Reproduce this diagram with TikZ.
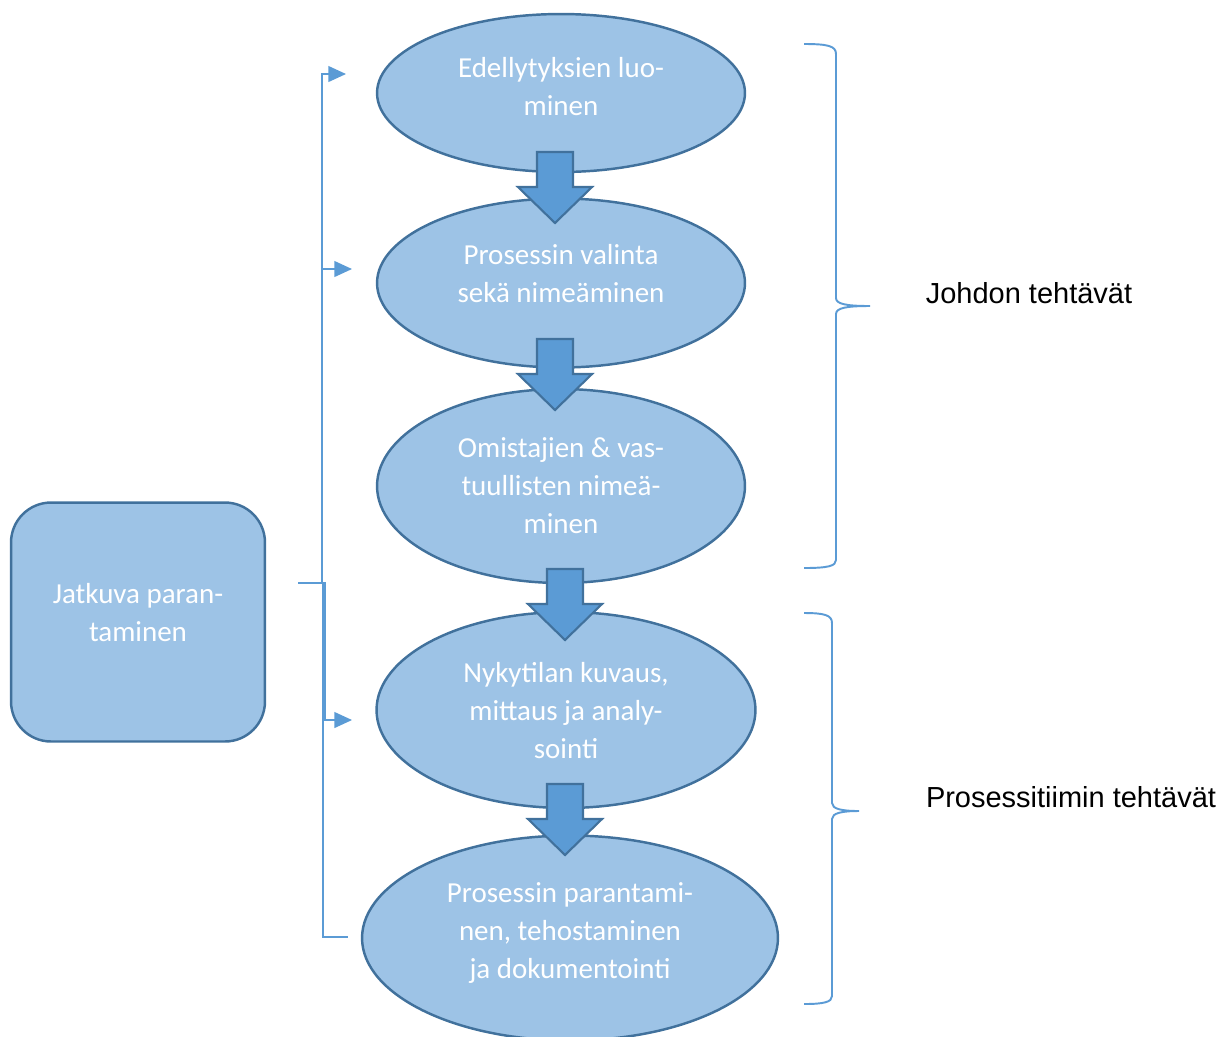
\documentclass[tikz,border=0pt]{standalone}
\usepackage{fontspec}
\setmainfont{Carlito}
\newfontfamily\labelfont{Liberation Sans}
\usepackage{xcolor}
\usetikzlibrary{arrows.meta}
\usetikzlibrary{shapes.geometric,positioning}
\definecolor{stagefill}{HTML}{9DC3E6}
\definecolor{stageline}{HTML}{41719C}
\definecolor{flowblue}{HTML}{5B9BD5}

\begin{document}
\begin{tikzpicture}[x=0.02cm,y=-0.02cm]
  \tikzset{stage/.style = {shape=ellipse,draw=stageline,fill=stagefill,line width=1.4pt,inner sep=0pt}}
  \tikzset{stagetext/.style = {text=white,align=center,inner sep=0pt,font=\fontsize{16.5}{21.8}\selectfont}}
  \tikzset{loopbox/.style = {shape=rectangle,rounded corners=0.8cm,draw=stageline,fill=stagefill,line width=1.4pt}}
  \tikzset{sidelabel/.style = {font=\labelfont\fontsize{16.5}{20}\selectfont}}
  \tikzset{link/.style = {draw=flowblue,line width=0.8pt}}
  \tikzset{bracket/.style = {draw=flowblue,line width=1.1pt}}
  \tikzset{%
  tipA/.tip={Triangle[length=10pt,width=9pt]},
  flowarrow/.pic={\draw[fill=flowblue,draw=stageline,line width=1.2pt] (-18,0) -- (18,0) -- (18,35) -- (37,35) -- (0,71) -- (-37,35) -- (-18,35) -- cycle;},
}

	\useasboundingbox (0,0) rectangle (1230,1036);

	\node[stage, minimum width=7.36cm, minimum height=3.16cm] (E1) at (561,93) {};
	\node[stage, minimum width=7.36cm, minimum height=3.38cm] (E2) at (561,283) {};
	\node[stage, minimum width=7.36cm, minimum height=3.88cm] (E3) at (561,486) {};
	\node[stage, minimum width=7.58cm, minimum height=3.92cm] (E4) at (566,710) {};
	\node[stage, minimum width=8.32cm, minimum height=4.1cm] (E5) at (570,938) {};
	\node[loopbox, minimum width=5.08cm, minimum height=4.78cm] (L) at (138,622) {};

	\node[stagetext] (E1text) at (561,86.5) {Edellytyksien luo-\\minen};
	\node[stagetext] (E2text) at (561,273.5) {Prosessin valinta\\sekä nimeäminen};
	\node[stagetext] (E3text) at (561,485.5) {Omistajien \& vas-\\tuullisten nimeä-\\minen};
	\node[stagetext] (E4text) at (566,710.5) {Nykytilan kuvaus,\\mittaus ja analy-\\sointi};
	\node[stagetext] (E5text) at (570,933) {Prosessin parantami-\\nen, tehostaminen\\ja dokumentointi};
	\node[stagetext] (Ltext) at (138,612.5) {Jatkuva paran-\\taminen};

	% block arrows between the stages
	\path (555,152) pic {flowarrow};
	\path (555,339) pic {flowarrow};
	\path (565,569) pic {flowarrow};
	\path (565,784) pic {flowarrow};

	\coordinate (src) at (298,583);
	\coordinate (in1) at (346,74);
	\coordinate (in2) at (352,269);
	\coordinate (in4) at (352,720);
	\coordinate (in5) at (348,937);

    \foreach \to/\dx in {in1/24, in2/24, in4/27}
    \draw[link,-tipA] (src) -- ++(\dx,0) |- (\to);
    \draw[link] (src) -- ++(25,0) |- (in5);

	% braces
	\draw[bracket] (804,44) .. controls (828,44) and (836,46) .. (836,54) -- (836,298) .. controls (836,304) and (846,306) .. (870,306) .. controls (846,306) and (836,308) .. (836,314) -- (836,560) .. controls (836,566) and (828,568) .. (804,568);
	\draw[bracket] (804,613) .. controls (824,613) and (832,615) .. (832,623) -- (832,803) .. controls (832,809) and (842,811) .. (859,811) .. controls (842,811) and (832,813) .. (832,819) -- (832,996) .. controls (832,1002) and (824,1004) .. (804,1004);

	\node[sidelabel] (T1) at (1029,293) {Johdon tehtävät};
	\node[sidelabel] (T2) at (1071,797) {Prosessitiimin tehtävät};

\end{tikzpicture}
\end{document}
